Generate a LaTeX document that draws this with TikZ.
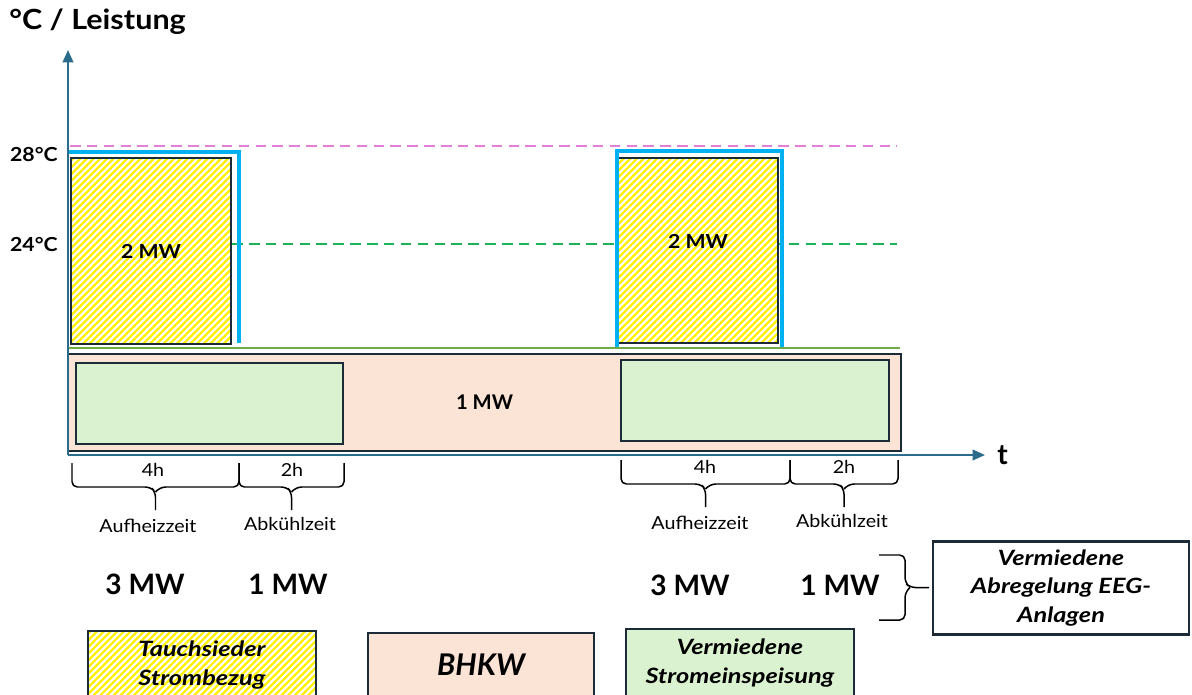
\documentclass[tikz,border=0pt]{standalone}
\usepackage{fontspec}
\setmainfont{Lato}
\newfontfamily\widefont[FakeStretch=1.1]{Lato}
\newfontfamily\legendfont[FakeStretch=1.2]{Lato}
\usepackage{xcolor}
\usepackage{tikz}
\definecolor{axisblue}{HTML}{2B6C8C}
\definecolor{boxline}{HTML}{1B2B38}
\definecolor{salmon}{HTML}{FBE3D6}
\definecolor{lightgreen}{HTML}{DAF2D0}
\definecolor{heatcyan}{HTML}{00B0F0}
\definecolor{orchid}{HTML}{E47FD8}
\definecolor{dashgreen}{HTML}{1DB257}
\definecolor{linegreen}{HTML}{70AD47}
\definecolor{stripe}{HTML}{FFF000}
\usetikzlibrary{positioning, calc, arrows.meta, patterns.meta}

\tikzset{
    axisline/.style={draw=axisblue, line width=1.1pt, -{Triangle[length=7pt, width=6pt]}},
    hatchbox/.style={draw=boxline, line width=1.2pt, preaction={fill=white},
        pattern={Lines[angle=45, distance=2.7pt, line width=1.3pt]}, pattern color=stripe,
        inner sep=0pt, align=center},
    plainbox/.style={draw=boxline, line width=1.2pt, inner sep=0pt, align=center},
    dashline/.style={line width=1.3pt, dash pattern=on 6pt off 3.6pt},
    heatline/.style={draw=heatcyan, line width=2.6pt},
    bracket/.style={draw=black, line width=0.85pt, rounded corners=3pt},
    small/.style={font=\widefont\fontsize{10.2}{12}\selectfont},
    big/.style={font=\bfseries\fontsize{16}{19}\selectfont},
    midbold/.style={font=\widefont\bfseries\fontsize{11}{13}\selectfont},
    legend/.style={font=\legendfont\bfseries\itshape\fontsize{12}{16.4}\selectfont}
}

% brace under a time span: start, end
\newcommand{\spanbrace}[2]{%
    \coordinate (bm) at ($(#1)!0.5!(#2)$);
    \draw[bracket] (#1) -- ++(0,24) -- ($(bm)+(-5,24)$) -- ($(bm)+(0,29)$) -- ($(bm)+(0,47)$);
    \draw[bracket] (#2) -- ++(0,24) -- ($(bm)+(5,24)$) -- ($(bm)+(0,29)$);
}

\begin{document}
\begin{tikzpicture}[x=0.02cm, y=-0.02cm]
    \useasboundingbox (0,0) rectangle (1192,695);
    \clip (0,0) rectangle (1192,695);

    % Axis title
    \node[anchor=west, inner sep=0pt, font=\widefont\bfseries\fontsize{15.8}{19}\selectfont] (ytitle) at (9,22) {°C / Leistung};

    % Temperature levels
    \node[anchor=east, inner sep=0pt, midbold] (t28) at (58,155) {28°C};
    \node[anchor=east, inner sep=0pt, midbold] (t24) at (58,245) {24°C};
    \coordinate (pinkend) at (897,146);
    \coordinate (greenend) at (897,244);
    \draw[dashline, orchid] (70,146) -- (pinkend);

    % Heating boxes (Tauchsieder)
    \node[hatchbox, minimum width=3.2cm, minimum height=3.72cm, midbold] (heatA) at (151,251) {2 MW};
    \draw[dashline, dashgreen] (heatA.east |- greenend) -- (greenend);
    \node[hatchbox, minimum width=3.2cm, minimum height=3.7cm,
        label={[yshift=0.18cm, midbold]center:2 MW}] (heatB) at (698,250.5) {};

    % Temperature curve
    \draw[heatline] (68,152) -- (239,152) -- (239,343);
    \draw[heatline] (617,347) -- (617,151) -- (782,151) -- (782,347);

    % Base load line
    \draw[linegreen, line width=1.1pt] (68,348) -- (900,348);

    % BHKW band
    \node[plainbox, fill=salmon, minimum width=16.66cm, minimum height=1.94cm, font=\bfseries\fontsize{11.5}{13}\selectfont] (bhkw) at (484.5,402.5) {1 MW};
    \node[plainbox, fill=lightgreen, minimum width=5.34cm, minimum height=1.62cm] (feedA) at (209.5,403.5) {};
    \node[plainbox, fill=lightgreen, minimum width=5.36cm, minimum height=1.62cm] (feedB) at (755,400.5) {};

    % Axes
    \coordinate (origin) at (68,455);
    \coordinate (ytip) at (68,50);
    \coordinate (xtip) at (985,455);
    \draw[axisline] (origin) -- (ytip);
    \draw[axisline] (origin) -- (xtip);
    \node[anchor=west, inner sep=0pt, big] (tlabel) at (997,455) {t};

    % Time spans, first cycle
    \coordinate (sA0) at (72,463);
    \coordinate (sA1) at (239,463);
    \coordinate (sA2) at (344,463);
    \spanbrace{sA0}{sA1}
    \spanbrace{sA1}{sA2}
    \node[small] (hA4) at (153,470) {4h};
    \node[small] (hA2) at (292,470) {2h};
    \node[small] (upA) at (148,526) {Aufheizzeit};
    \node[small] (downA) at (290,524) {Abkühlzeit};
    \node[big] (mwA3) at (145,584) {3 MW};
    \node[big] (mwA1) at (288,584) {1 MW};

    % Time spans, second cycle
    \coordinate (sB0) at (621,460);
    \coordinate (sB1) at (790,460);
    \coordinate (sB2) at (898,460);
    \spanbrace{sB0}{sB1}
    \spanbrace{sB1}{sB2}
    \node[small] (hB4) at (705,467) {4h};
    \node[small] (hB2) at (844,467) {2h};
    \node[small] (upB) at (700,523) {Aufheizzeit};
    \node[small] (downB) at (842,521) {Abkühlzeit};
    \node[big] (mwB3) at (690,585) {3 MW};
    \node[big] (mwB1) at (840,585) {1 MW};

    % Avoided curtailment
    \coordinate (cTop) at (879,555);
    \coordinate (cBot) at (879,620);
    \coordinate (cm) at ($(cTop)!0.5!(cBot)$);
    \draw[bracket] (cTop) -- ++(26,0) -- ($(cm)+(26,-5)$) -- ($(cm)+(31,0)$) -- ($(cm)+(50,0)$);
    \draw[bracket] (cBot) -- ++(26,0) -- ($(cm)+(26,5)$) -- ($(cm)+(31,0)$);
    \node[plainbox, fill=white, minimum width=5.12cm, minimum height=1.86cm, legend] (curtail) at (1061,588) {Vermiedene\\Abregelung EEG-\\Anlagen};

    % Legend
    \node[hatchbox, minimum width=4.56cm, minimum height=1.36cm, legend] (legHeat) at (202,665) {Tauchsieder\\Strombezug};
    \node[plainbox, fill=salmon, minimum width=4.52cm, minimum height=1.28cm, font=\bfseries\itshape\fontsize{17}{20}\selectfont] (legBhkw) at (481,665) {BHKW};
    \node[plainbox, fill=lightgreen, minimum width=4.56cm, minimum height=1.36cm, legend] (legFeed) at (740,663) {Vermiedene\\Stromeinspeisung};
\end{tikzpicture}
\end{document}
